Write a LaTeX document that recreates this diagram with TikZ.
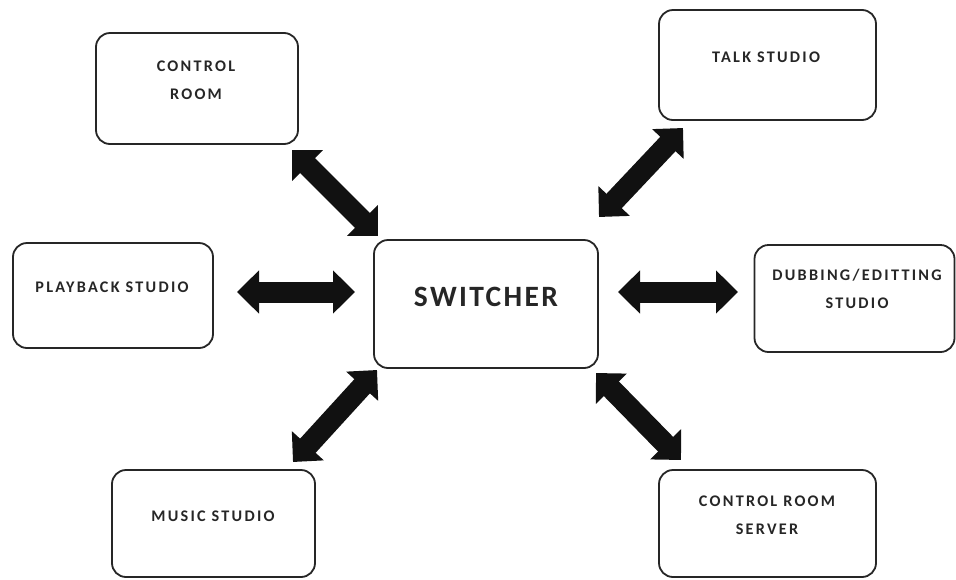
\documentclass[tikz,border=0pt]{standalone}
\usepackage{fontspec}
\usetikzlibrary{arrows.meta}
\newfontfamily\lblfont{Carlito}[LetterSpace=14]
\newfontfamily\swfont{Carlito}[LetterSpace=8]
\definecolor{ink}{HTML}{262626}
\definecolor{arrowink}{HTML}{111111}
\tikzset{
  box/.style={draw=ink, line width=1.8pt, rounded corners=14pt, fill=white},
  lbl/.style={text=ink, align=center, font=\lblfont\bfseries\fontsize{16.2}{28}\selectfont, inner sep=0pt},
  swlbl/.style={text=ink, font=\swfont\bfseries\fontsize{29.5}{32}\selectfont, inner sep=0pt},
  fat/.style={draw=arrowink, line width=21pt,
    {Triangle[width=42pt,length=22pt]}-{Triangle[width=42pt,length=22pt]}}
}
\begin{document}
\begin{tikzpicture}[x=1pt,y=-1pt]
\useasboundingbox (0,0) rectangle (956,579);
% boxes
\node[box, minimum width=202pt, minimum height=111pt] (cr) at (197,88.5) {};
\node[box, minimum width=217pt, minimum height=110pt] (talk) at (767.5,65) {};
\node[box, minimum width=200pt, minimum height=105pt] (play) at (113,295.5) {};
\node[box, minimum width=224pt, minimum height=128pt] (sw) at (486,304) {};
\node[box, minimum width=200pt, minimum height=107pt] (dub) at (854.5,298.5) {};
\node[box, minimum width=203pt, minimum height=107pt] (music) at (213.5,523.5) {};
\node[box, minimum width=217pt, minimum height=107pt] (server) at (767.5,523.5) {};
% labels
\node[lbl] (crt) at (196,80) {CONTROL\\ROOM};
\node[lbl] (talkt) at (766,57) {TALK STUDIO};
\node[lbl] (playt) at (112,287) {PLAYBACK STUDIO};
\node[swlbl] (swt) at (486,297) {SWITCHER};
\node[lbl] (dubt) at (857,289) {DUBBING/EDITTING\\STUDIO};
\node[lbl] (musict) at (213,516) {MUSIC STUDIO};
\node[lbl] (servert) at (767,515) {CONTROL ROOM\\SERVER};
% arrow ends
\coordinate (a1s) at (292,150); \coordinate (a1e) at (378,236);
\coordinate (a2s) at (599,217); \coordinate (a2e) at (683,128);
\coordinate (a3s) at (237,292); \coordinate (a3e) at (355,292);
\coordinate (a4s) at (618,292); \coordinate (a4e) at (738,292);
\coordinate (a5s) at (293,462); \coordinate (a5e) at (377,370);
\coordinate (a6s) at (596,373); \coordinate (a6e) at (681,460);
\draw[fat] (a1s) -- (a1e);
\draw[fat] (a2s) -- (a2e);
\draw[fat] (a3s) -- (a3e);
\draw[fat] (a4s) -- (a4e);
\draw[fat] (a5s) -- (a5e);
\draw[fat] (a6s) -- (a6e);
\end{tikzpicture}
\end{document}
